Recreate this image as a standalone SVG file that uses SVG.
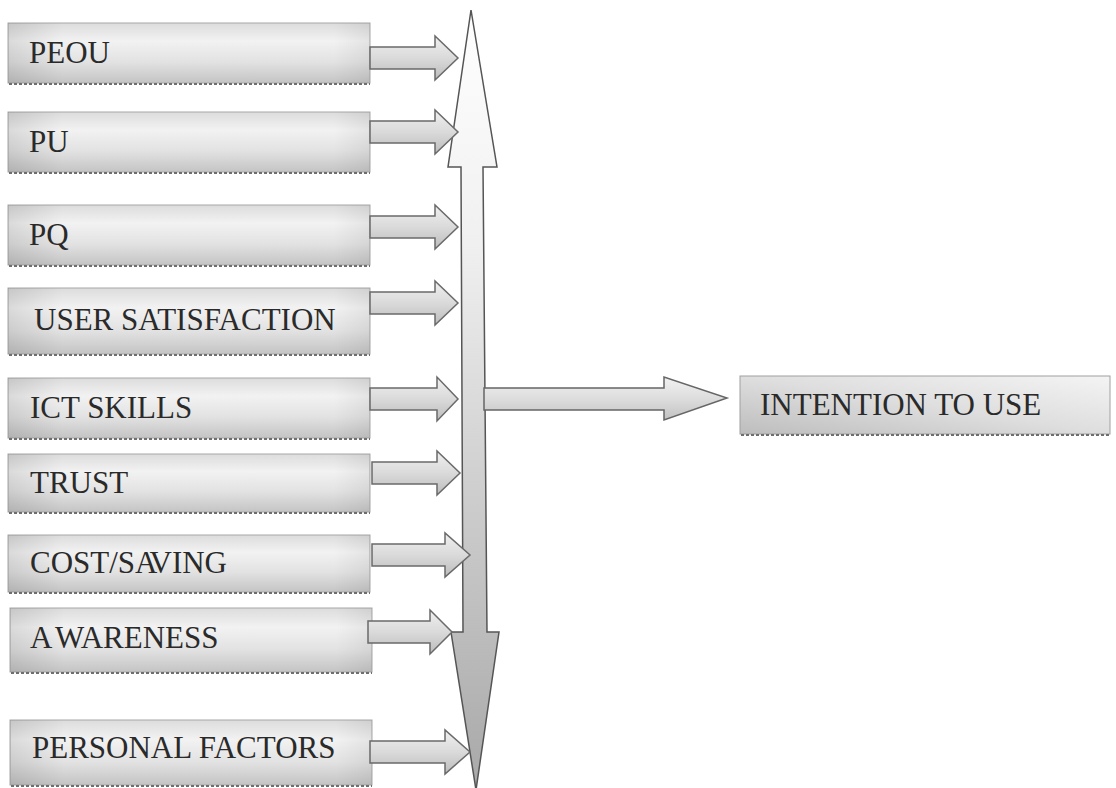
<svg xmlns="http://www.w3.org/2000/svg" width="1116" height="788" viewBox="0 0 1116 788">
<defs>
<linearGradient id="boxg" x1="0" y1="0" x2="0" y2="1">
<stop offset="0" stop-color="#dcdcdc"/>
<stop offset="0.3" stop-color="#f2f2f2"/>
<stop offset="0.65" stop-color="#e2e2e2"/>
<stop offset="1" stop-color="#c4c4c4"/>
</linearGradient>
<linearGradient id="boxh" x1="0" y1="0" x2="1" y2="0">
<stop offset="0" stop-color="#000" stop-opacity="0.10"/>
<stop offset="0.15" stop-color="#000" stop-opacity="0"/>
<stop offset="0.9" stop-color="#000" stop-opacity="0"/>
<stop offset="1" stop-color="#000" stop-opacity="0.06"/>
</linearGradient>
<linearGradient id="intg" x1="0" y1="1" x2="1" y2="0">
<stop offset="0" stop-color="#bdbdbd"/>
<stop offset="0.5" stop-color="#dedede"/>
<stop offset="1" stop-color="#f4f4f4"/>
</linearGradient>
<linearGradient id="arrg" x1="0" y1="0" x2="0" y2="1">
<stop offset="0" stop-color="#f0f0f0"/>
<stop offset="0.5" stop-color="#dadada"/>
<stop offset="1" stop-color="#bcbcbc"/>
</linearGradient>
<linearGradient id="vg" x1="0" y1="0" x2="0" y2="1">
<stop offset="0" stop-color="#ffffff"/>
<stop offset="0.3" stop-color="#f0f0f0"/>
<stop offset="0.6" stop-color="#d0d0d0"/>
<stop offset="1" stop-color="#a8a8a8"/>
</linearGradient>
<linearGradient id="hg" x1="0" y1="0" x2="0" y2="1">
<stop offset="0" stop-color="#f2f2f2"/>
<stop offset="0.5" stop-color="#dddddd"/>
<stop offset="1" stop-color="#c2c2c2"/>
</linearGradient>
</defs>
<style>
.box{fill:url(#boxg);stroke:#a8a8a8;stroke-width:1}
.shade{fill:url(#boxh)}
.sh{stroke:#6e6e6e;stroke-width:2;stroke-dasharray:3 2;fill:none}
.lbl{font-family:"Liberation Serif","Times New Roman",serif;font-size:31px;fill:#2a2a2a}
.arr{fill:url(#arrg);stroke:#6a6a6a;stroke-width:1.5;stroke-linejoin:miter}
</style>
<rect width="1116" height="788" fill="#ffffff"/>

<g id="peou"><rect class="box" x="8" y="23" width="362" height="60"/><rect class="shade" x="8" y="23" width="362" height="60"/><line class="sh" x1="9" y1="84" x2="370" y2="84"/><text class="lbl" x="29" y="63">PEOU</text></g>
<g id="pu"><rect class="box" x="8" y="112" width="362" height="60"/><rect class="shade" x="8" y="112" width="362" height="60"/><line class="sh" x1="9" y1="173" x2="370" y2="173"/><text class="lbl" x="29" y="152">PU</text></g>
<g id="pq"><rect class="box" x="8" y="205" width="362" height="60"/><rect class="shade" x="8" y="205" width="362" height="60"/><line class="sh" x1="9" y1="266" x2="370" y2="266"/><text class="lbl" x="29" y="245">PQ</text></g>
<g id="user-satisfaction"><rect class="box" x="8" y="288" width="362" height="66"/><rect class="shade" x="8" y="288" width="362" height="66"/><line class="sh" x1="9" y1="355" x2="370" y2="355"/><text class="lbl" x="34" y="330">USER SATISFACTION</text></g>
<g id="ict-skills"><rect class="box" x="8" y="378" width="362" height="60"/><rect class="shade" x="8" y="378" width="362" height="60"/><line class="sh" x1="9" y1="439" x2="370" y2="439"/><text class="lbl" x="30" y="418">ICT SKILLS</text></g>
<g id="trust"><rect class="box" x="8" y="454" width="362" height="58"/><rect class="shade" x="8" y="454" width="362" height="58"/><line class="sh" x1="9" y1="513" x2="370" y2="513"/><text class="lbl" x="30" y="493">TRUST</text></g>
<g id="cost-saving"><rect class="box" x="8" y="535" width="362" height="57"/><rect class="shade" x="8" y="535" width="362" height="57"/><line class="sh" x1="9" y1="593" x2="370" y2="593"/><text class="lbl" x="30" y="573">COST/SA<tspan dx="-4">VING</tspan></text></g>
<g id="awareness"><rect class="box" x="10" y="608" width="362" height="64"/><rect class="shade" x="10" y="608" width="362" height="64"/><line class="sh" x1="11" y1="673" x2="372" y2="673"/><text class="lbl" x="30" y="648">A<tspan dx="5">WARENESS</tspan></text></g>
<g id="personal-factors"><rect class="box" x="10" y="720" width="362" height="65"/><rect class="shade" x="10" y="720" width="362" height="65"/><line class="sh" x1="11" y1="786" x2="372" y2="786"/><text class="lbl" x="32" y="758">PERSONAL FACTORS</text></g>

<g id="intention-to-use"><rect x="740" y="376" width="370" height="58" fill="url(#intg)" stroke="#a0a0a0" stroke-width="1"/><line class="sh" x1="741" y1="435" x2="1110" y2="435"/><text class="lbl" x="760" y="415">INTENTION TO USE</text></g>

<g id="connectors">
<polygon points="471,10 497,167 483,167 487,632 499,632 476,790 451,632 463,632 461,167 448,167" fill="url(#vg)" stroke="#555" stroke-width="1.5"/>
<polygon class="arr" points="370,47 435,47 435,36 458,58 435,80 435,69 370,69"/>
<polygon class="arr" points="370,121 435,121 435,110 458,132 435,154 435,143 370,143"/>
<polygon class="arr" points="370,216 435,216 435,205 458,227 435,249 435,238 370,238"/>
<polygon class="arr" points="370,292 435,292 435,281 458,303 435,325 435,314 370,314"/>
<polygon class="arr" points="370,388 437,388 437,377 458,399 437,421 437,410 370,410"/>
<polygon class="arr" points="372,462 437,462 437,451 460,473 437,495 437,484 372,484"/>
<polygon class="arr" points="372,544 445,544 445,533 470,555 445,577 445,566 372,566"/>
<polygon class="arr" points="368,621 430,621 430,610 452,632 430,654 430,643 368,643"/>
<polygon class="arr" points="370,741 445,741 445,730 470,752 445,774 445,763 370,763"/>
<polygon points="484,388 664,388 664,377 727,398 664,420 664,410 484,410" fill="url(#hg)" stroke="#666" stroke-width="1.5"/>
</g>
</svg>
